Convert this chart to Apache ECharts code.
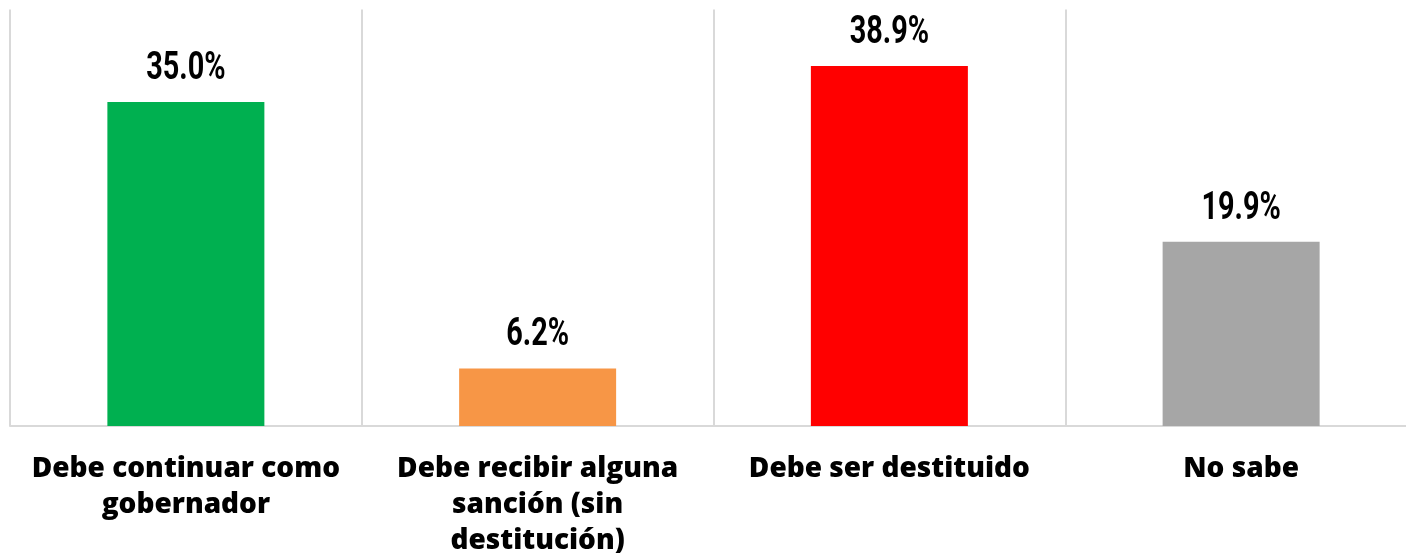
<!DOCTYPE html>
<html>
<head>
<meta charset="utf-8">
<script src="https://cdn.jsdelivr.net/npm/echarts@6/dist/echarts.min.js"></script>
<style>
html, body { margin: 0; padding: 0; background: #fff; }
#chart { width: 1406px; height: 555px; }
</style>
</head>
<body>
<div id="chart"></div>
<script>
// datos de la encuesta
var categories = [
    'Debe continuar como\ngobernador',
    'Debe recibir alguna\nsanción (sin\ndestitución)',
    'Debe ser destituido',
    'No sabe'
];
var values = [35.0, 6.2, 38.9, 19.9];
var colors = ['#00B050', '#F79646', '#FF0000', '#A6A6A6'];

var chart = echarts.init(document.getElementById('chart'));
chart.setOption({
    animation: false,
    grid: { left: 10, top: 9.5, width: 1407, height: 416.5, outerBoundsMode: 'none', containLabel: false },
    xAxis: {
        type: 'category',
        data: categories,
        axisLine: { lineStyle: { color: '#D9D9D9', width: 2 } },
        axisTick: { show: false },
        splitLine: { show: true, lineStyle: { color: '#D9D9D9', width: 2 } },
        axisLabel: {
            interval: 0,
            margin: 25,
            color: '#000',
            fontFamily: '"Open Sans"',
            fontWeight: 800,
            fontSize: 28,
            lineHeight: 36
        }
    },
    yAxis: {
        type: 'value',
        min: 0,
        max: 45,
        show: false,
        splitLine: { show: false }
    },
    series: [{
        type: 'bar',
        barWidth: 157,
        data: values.map(function (v, i) {
            return { value: v, itemStyle: { color: colors[i] } };
        })
    }, {
        // etiquetas condensadas encima de cada barra
        type: 'custom',
        data: values.map(function (v, i) { return [i, v]; }),
        renderItem: function (params, api) {
            var p = api.coord([api.value(0), api.value(1)]);
            return {
                type: 'text',
                x: p[0],
                y: p[1] - 33,
                scaleX: 0.74,
                style: {
                    text: api.value(1).toFixed(1) + '%',
                    font: 'bold 39px Roboto',
                    fill: '#000',
                    align: 'center',
                    verticalAlign: 'middle'
                }
            };
        }
    }]
});
</script>
</body>
</html>
